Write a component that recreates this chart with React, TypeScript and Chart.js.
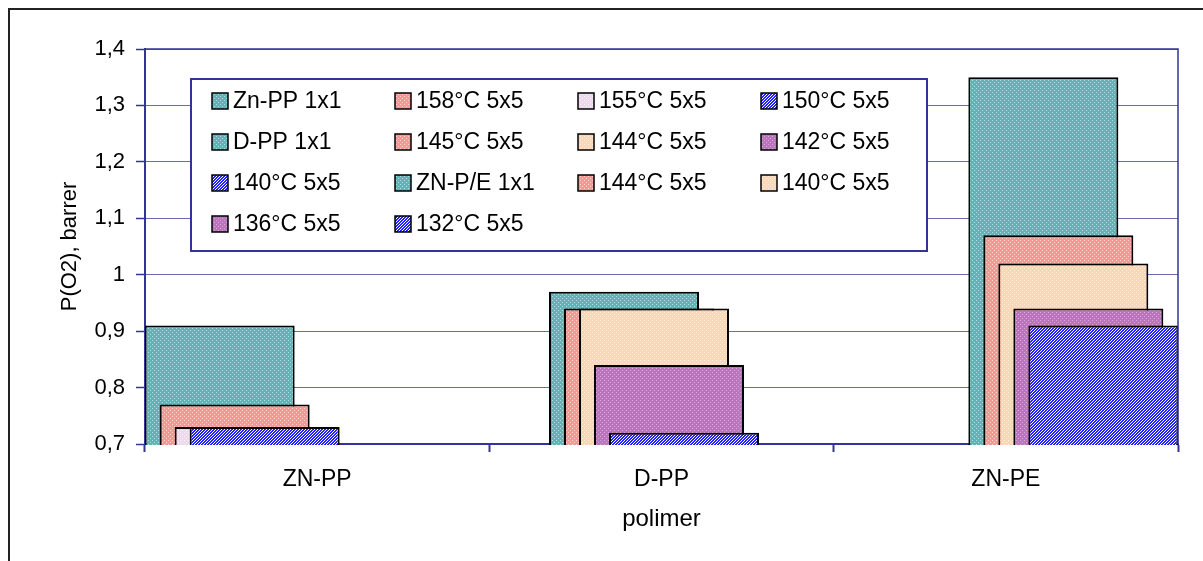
import React, { useEffect, useRef } from 'react';
import { Chart, registerables } from 'chart.js';

Chart.register(...registerables);

// ---- data ----
const categories = ['ZN-PP', 'D-PP', 'ZN-PE'];
const seriesNames = [
  'Zn-PP 1x1', '158°C 5x5', '155°C 5x5', '150°C 5x5',
  'D-PP 1x1', '145°C 5x5', '144°C 5x5', '142°C 5x5',
  '140°C 5x5', 'ZN-P/E 1x1', '144°C 5x5', '140°C 5x5',
  '136°C 5x5', '132°C 5x5',
];
const seriesCategory = [0, 0, 0, 0, 1, 1, 1, 1, 1, 2, 2, 2, 2, 2];
const seriesValues = [0.91, 0.77, 0.73, 0.73, 0.97, 0.94, 0.94, 0.84, 0.72, 1.35, 1.07, 1.02, 0.94, 0.91];
const yMin = 0.7;
const yMax = 1.4;
const yStep = 0.1;
const xTitle = 'polimer';
const yTitle = 'P(O2), barrer';

// ---- styles ----
const seriesFill = ['teal', 'pink', 'lilac', 'blue', 'teal', 'pink', 'peach', 'purple', 'blue', 'teal', 'pink', 'peach', 'purple', 'blue'];
const FONT = '"Liberation Sans", Arial, sans-serif';
const AXIS_BLUE = '#333399';

function makePattern(kind: string): CanvasPattern {
  const c = document.createElement('canvas');
  const g = c.getContext('2d') as CanvasRenderingContext2D;
  const defs: Record<string, [string, string]> = {
    teal: ['#5db5b5', '#b2dddd'],
    pink: ['#ff9494', '#ffd4d4'],
    lilac: ['#ecdaec', '#fbf4fb'],
    peach: ['#ffd5b6', '#fff1e4'],
    purple: ['#bb76bb', '#d8a8d8'],
  };
  if (kind === 'blue') {
    c.width = 3;
    c.height = 3;
    const g2 = c.getContext('2d') as CanvasRenderingContext2D;
    for (let y = 0; y < 3; y++) {
      for (let x = 0; x < 3; x++) {
        g2.fillStyle = (x + y) % 3 !== 2 ? '#2222ff' : '#ffffff';
        g2.fillRect(x, y, 1, 1);
      }
    }
    return g2.createPattern(c, 'repeat') as CanvasPattern;
  }
  c.width = 4;
  c.height = 4;
  const g3 = c.getContext('2d') as CanvasRenderingContext2D;
  const [bg, fg] = defs[kind];
  g3.fillStyle = bg;
  g3.fillRect(0, 0, 4, 4);
  g3.fillStyle = fg;
  g3.fillRect(0, 0, 1, 1);
  g3.fillRect(2, 2, 1, 1);
  void g;
  return g3.createPattern(c, 'repeat') as CanvasPattern;
}

export default function App() {
  const ref = useRef<HTMLCanvasElement | null>(null);

  useEffect(() => {
    const canvas = ref.current;
    if (!canvas) return;
    const patterns: Record<string, CanvasPattern> = {};
    seriesFill.forEach((k) => {
      if (!patterns[k]) patterns[k] = makePattern(k);
    });

    const datasets = seriesNames.map((name, i) => ({
      label: name,
      data: categories.map((_, ci) => (ci === seriesCategory[i] ? seriesValues[i] : null)),
      backgroundColor: patterns[seriesFill[i]],
      borderColor: '#000000',
      borderWidth: 2,
      borderSkipped: false as const,
      categoryPercentage: 210 / 344.33,
      barPercentage: 10,
    }));

    const drawOrderPlugin = {
      id: 'drawOrder',
      beforeDatasetsDraw(chart: any) {
        const ctx = chart.ctx;
        const a = chart.chartArea;
        ctx.save();
        ctx.beginPath();
        ctx.rect(a.left, a.top - 2, a.right - a.left + 1, a.bottom - a.top + 3);
        ctx.clip();
        const metas = chart.getSortedVisibleDatasetMetas();
        for (const m of metas) m.controller.draw();
        ctx.restore();
        return false;
      },
    };

    const frameLegendPlugin = {
      id: 'frameLegend',
      afterDraw(chart: any) {
        const ctx = chart.ctx as CanvasRenderingContext2D;
        const a = chart.chartArea;
        ctx.save();
        // plot frame
        ctx.strokeStyle = AXIS_BLUE;
        ctx.lineWidth = 1.5;
        ctx.beginPath();
        ctx.moveTo(a.left, a.top);
        ctx.lineTo(a.right, a.top);
        ctx.lineTo(a.right, a.bottom);
        ctx.stroke();

        // legend box
        const bx = 191, by = 79, bw = 736, bh = 172;
        ctx.fillStyle = '#ffffff';
        ctx.fillRect(bx, by, bw, bh);
        ctx.strokeStyle = AXIS_BLUE;
        ctx.lineWidth = 2;
        ctx.strokeRect(bx, by, bw, bh);

        ctx.font = `23px ${FONT}`;
        ctx.textBaseline = 'middle';
        ctx.textAlign = 'left';
        seriesNames.forEach((name, i) => {
          const col = i % 4;
          const row = Math.floor(i / 4);
          const sx = 212 + col * 183;
          const cy = 101 + row * 41;
          ctx.fillStyle = patterns[seriesFill[i]];
          ctx.fillRect(sx, cy - 8, 16, 16);
          ctx.strokeStyle = '#000000';
          ctx.lineWidth = 1.5;
          ctx.strokeRect(sx, cy - 8, 16, 16);
          ctx.fillStyle = '#000000';
          ctx.fillText(name, sx + 21, cy + 1);
        });
        ctx.restore();
      },
    };

    const chart = new Chart(canvas, {
      type: 'bar',
      data: { labels: categories, datasets },
      options: {
        responsive: false,
        animation: false,
        devicePixelRatio: 1,
        layout: { padding: { left: 0, top: 49, right: 25, bottom: 0 } },
        plugins: {
          legend: { display: false },
          tooltip: { enabled: false },
        },
        scales: {
          x: {
            offset: true,
            grid: {
              offset: true,
              drawOnChartArea: false,
              drawTicks: true,
              tickLength: 8,
              tickColor: AXIS_BLUE,
              tickWidth: 2,
            },
            border: { color: AXIS_BLUE, width: 2 },
            ticks: {
              color: '#000000',
              font: { family: FONT, size: 23 },
              padding: 14,
              maxRotation: 0,
            },
            title: {
              display: true,
              text: xTitle,
              color: '#000000',
              font: { family: FONT, size: 24 },
              padding: { top: 0, bottom: 27 },
            },
            afterFit(scale: any) {
              scale.height = 117;
            },
          },
          y: {
            min: yMin,
            max: yMax,
            ticks: {
              stepSize: yStep,
              color: '#000000',
              font: { family: FONT, size: 22 },
              padding: 11,
              callback: (v: any) => String(Math.round(Number(v) * 10) / 10).replace('.', ','),
            },
            grid: {
              color: '#6a6ab8',
              lineWidth: 1,
              drawTicks: true,
              tickLength: 9,
              tickColor: AXIS_BLUE,
              tickWidth: 1.5,
            },
            border: { color: AXIS_BLUE, width: 2 },
            title: {
              display: true,
              text: yTitle,
              color: '#000000',
              font: { family: FONT, size: 22 },
              padding: { top: 57, bottom: 0 },
            },
            afterFit(scale: any) {
              scale.width = 145;
            },
          },
        },
      },
      plugins: [drawOrderPlugin, frameLegendPlugin],
    });

    return () => {
      chart.destroy();
    };
  }, []);

  return (
    <div
      style={{
        position: 'fixed',
        left: 0,
        top: 0,
        width: 1203,
        height: 561,
        overflow: 'hidden',
        background: '#ffffff',
      }}
    >
      <div
        style={{
          position: 'absolute',
          left: 8,
          top: 8,
          width: 1300,
          height: 700,
          border: '2px solid #222222',
        }}
      />
      <canvas
        ref={ref}
        width={1203}
        height={561}
        style={{ position: 'absolute', left: 0, top: 0, width: 1203, height: 561 }}
      />
    </div>
  );
}
